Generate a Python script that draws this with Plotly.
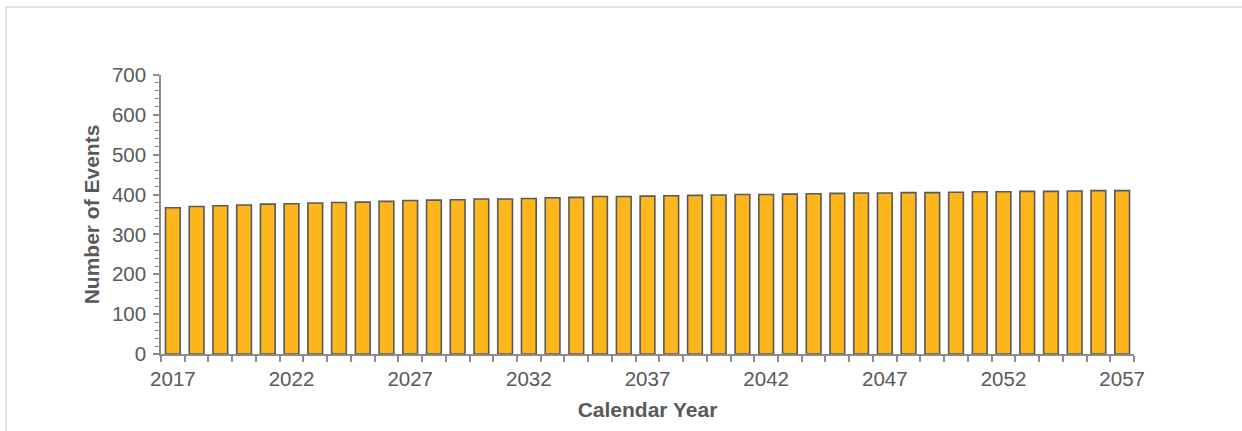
import plotly.graph_objects as go

# Annual event counts, 2017-2057
years = list(range(2017, 2058))
events = [367, 370, 372, 374, 376, 377, 379, 380, 381, 383,
          385, 386, 387, 389, 389, 390, 392, 393, 395, 395,
          396, 397, 398, 399, 400, 400, 401, 402, 403, 404,
          404, 405, 405, 406, 407, 407, 408, 408, 409, 410, 410]

x_tick_years = list(range(2017, 2058, 5))
y_tick_values = list(range(0, 701, 100))

TEXT = "#595959"
AXIS = "#8C8C8C"
FONT = "Liberation Sans, Arial, sans-serif"

fig = go.Figure(
    go.Bar(
        x=years,
        y=events,
        width=0.62,
        marker=dict(color="#FDB71C", line=dict(color="#595959", width=1.6)),
        hoverinfo="x+y",
    )
)

# Frame around the chart area
L, R, T, B = 161, 1134, 75, 354
W, H = R - L, B - T
def px_x(v):
    return (v - L) / W
def px_y(v):
    return (B - v) / H

frame = dict(color="#D9D9D9", width=1.5)
fig.add_shape(type="line", xref="paper", yref="paper",
              x0=px_x(6), x1=px_x(1250), y0=px_y(7), y1=px_y(7), line=frame)
fig.add_shape(type="line", xref="paper", yref="paper",
              x0=px_x(6), x1=px_x(6), y0=px_y(7), y1=px_y(440), line=frame)

fig.update_layout(
    width=1242,
    height=431,
    margin=dict(l=L, r=1242 - R, t=T, b=431 - B, pad=0),
    paper_bgcolor="white",
    plot_bgcolor="white",
    showlegend=False,
    font=dict(family=FONT, color=TEXT, size=20),
    xaxis=dict(
        range=[2016.5, 2057.5],
        tickmode="array",
        tickvals=x_tick_years,
        ticktext=[str(y) for y in x_tick_years],
        ticks="",
        ticklabelstandoff=6,
        showline=True,
        linecolor=AXIS,
        linewidth=1.5,
        showgrid=False,
        zeroline=False,
        tickfont=dict(size=20.5, color=TEXT),
        minor=dict(tick0=2016.5, dtick=1, ticks="outside", ticklen=6,
                   tickcolor=AXIS, tickwidth=1.5, showgrid=False),
        title=dict(text="<b>Calendar Year</b>", font=dict(size=21, color=TEXT),
                   standoff=13),
    ),
    yaxis=dict(
        range=[0, 700],
        tickmode="array",
        tickvals=y_tick_values,
        ticks="outside",
        ticklen=6,
        tickwidth=1.5,
        tickcolor=AXIS,
        ticklabelstandoff=3,
        showline=True,
        linecolor=AXIS,
        linewidth=1.5,
        showgrid=False,
        zeroline=False,
        tickfont=dict(size=20.5, color=TEXT),
        minor=dict(dtick=20, ticks="outside", ticklen=4, tickcolor=AXIS,
                   tickwidth=1.2, showgrid=False),
        title=dict(text="<b>Number of Events</b>", font=dict(size=21, color=TEXT),
                   standoff=7),
    ),
)

fig.write_html("out.html")
